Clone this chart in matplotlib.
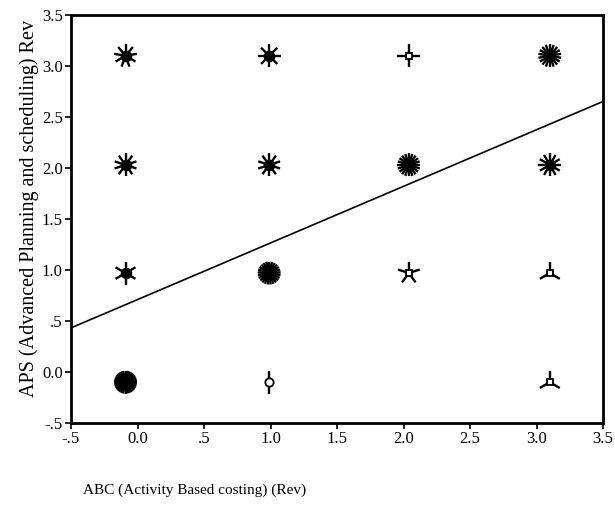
import numpy as np
import matplotlib
matplotlib.use("Agg")
import matplotlib.pyplot as plt

# Sunflower plot: each flower sits at a response cell, petals = number of cases
abc_pos = [-0.09, 0.99, 2.04, 3.1]          # ABC (Rev) cell positions
aps_pos = [3.1, 2.03, 0.97, -0.1]           # APS (Rev) cell positions
# case counts per cell, rows follow aps_pos, columns follow abc_pos
counts = [
    [9, 8, 4, 18],
    [10, 10, 20, 12],
    [6, 25, 5, 3],
    [30, 2, 0, 3],
]

# fitted regression line
fit_intercept = 0.71
fit_slope = 0.555

x_ticks = [-0.5, 0.0, 0.5, 1.0, 1.5, 2.0, 2.5, 3.0, 3.5]
x_tick_labels = ["-.5", "0.0", ".5", "1.0", "1.5", "2.0", "2.5", "3.0", "3.5"]
y_ticks = [-0.5, 0.0, 0.5, 1.0, 1.5, 2.0, 2.5, 3.0, 3.5]
y_tick_labels = ["-.5", "0.0", ".5", "1.0", "1.5", "2.0", "2.5", "3.0", "3.5"]

x_title = "ABC (Activity Based costing) (Rev)"
y_title = "APS (Advanced Planning and scheduling) Rev"

plt.rcParams["font.family"] = ["Liberation Serif", "DejaVu Serif"]

W, H = 615, 509
fig = plt.figure(figsize=(W / 100, H / 100), dpi=100)
ax = fig.add_axes([71 / W, 1 - 423 / H, 532 / W, 408 / H])
ax.set_xlim(-0.5, 3.5)
ax.set_ylim(-0.5, 3.5)

# pixels per data unit, used to keep petals a fixed screen length
p0 = ax.transData.transform((0, 0))
p1 = ax.transData.transform((1, 1))
px_x = p1[0] - p0[0]
px_y = p1[1] - p0[1]

petal_px = 11.5
for i, yv in enumerate(aps_pos):
    for j, xv in enumerate(abc_pos):
        n = counts[i][j]
        if n == 0:
            continue
        if n == 1:
            ax.plot(xv, yv, "o", ms=4, mfc="white", mec="black", mew=1.2)
            continue
        ang = np.pi / 2 + np.arange(n) * 2 * np.pi / n
        for a in ang:
            ax.plot([xv, xv + petal_px * np.cos(a) / px_x],
                    [yv, yv + petal_px * np.sin(a) / px_y],
                    color="black", lw=1.7, solid_capstyle="butt", zorder=3)
        if n == 2:
            center = dict(marker="o", ms=6, mfc="white")
        elif n < 6:
            center = dict(marker="s", ms=5, mfc="white")
        else:
            center = dict(marker="o", ms=7, mfc="black")
        ax.plot(xv, yv, linestyle="none", mec="black", mew=1.3, zorder=4,
                **center)

xs = np.array([-0.5, 3.5])
ax.plot(xs, fit_intercept + fit_slope * xs, color="black", lw=1.2, zorder=2)

for s in ax.spines.values():
    s.set_linewidth(2)
ax.set_xticks(x_ticks)
ax.set_xticklabels(x_tick_labels)
ax.set_yticks(y_ticks)
ax.set_yticklabels(y_tick_labels)
ax.tick_params(direction="out", length=4, width=1.2, labelsize=12, pad=2)

fig.text(83 / W, 1 - 490 / H, x_title, fontsize=11, ha="left", va="center")
fig.text(29 / W, 1 - 208 / H, y_title, fontsize=14.5, ha="center", va="center",
         rotation=90)

fig.savefig("out.png", dpi=100)
